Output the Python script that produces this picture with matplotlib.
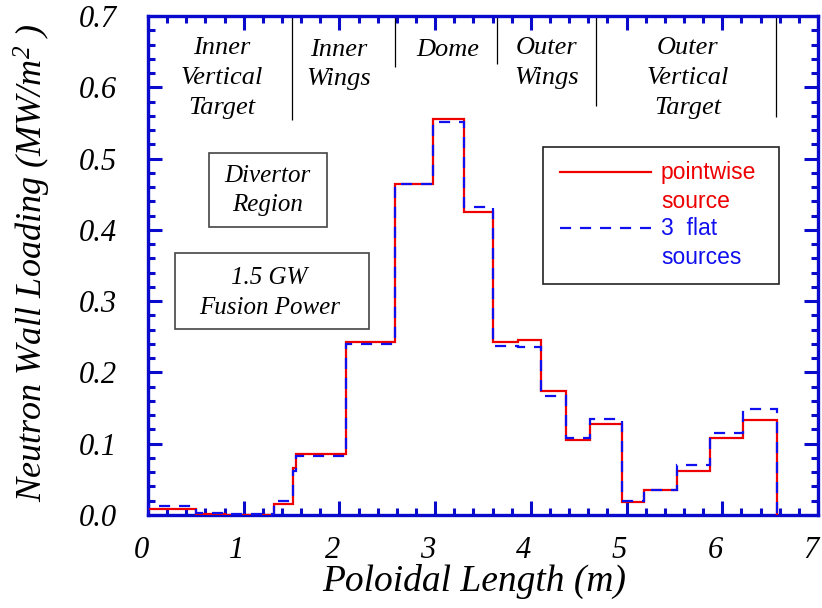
import matplotlib.pyplot as plt
from matplotlib.patches import Rectangle
from matplotlib.ticker import MultipleLocator, FormatStrFormatter
from matplotlib.transforms import ScaledTranslation

plt.rcParams['font.family'] = 'Liberation Serif'
plt.rcParams['font.style'] = 'italic'
plt.rcParams['mathtext.fontset'] = 'custom'
plt.rcParams['mathtext.rm'] = 'Liberation Serif'
plt.rcParams['mathtext.it'] = 'Liberation Serif:italic'

# poloidal bin edges (m) and wall loading per bin (MW/m2)
edges = [0.0, 0.5, 0.8, 1.32, 1.51, 1.55, 2.07, 2.58, 2.98, 3.30, 3.60,
         3.87, 4.11, 4.37, 4.62, 4.95, 5.18, 5.53, 5.87, 6.22, 6.57]
pointwise = [0.008, 0.002, 0.0005, 0.0155, 0.066, 0.0855, 0.243, 0.464,
             0.556, 0.4255, 0.243, 0.2455, 0.1745, 0.105, 0.1275, 0.018,
             0.035, 0.062, 0.108, 0.1335]
flat3 = [0.0125, 0.003, 0.001, 0.020, 0.062, 0.083, 0.2395, 0.464,
         0.552, 0.4325, 0.2375, 0.236, 0.167, 0.1085, 0.134, 0.019,
         0.035, 0.070, 0.1155, 0.148]

# divertor region boundaries and labels
region_x = [1.50, 2.583, 3.647, 4.68, 6.556]
region_ymin = [0.554, 0.629, 0.633, 0.574, 0.559]
region_names = ["Inner\nVertical\nTarget", "Inner\nWings", "Dome",
                "Outer\nWings", "Outer\nVertical\nTarget"]
region_lx = [0.77, 1.99, 3.13, 4.165, 5.64]
region_ly = [0.613, 0.632, 0.652, 0.634, 0.613]

axblue = '#0a0acc'

fig = plt.figure(figsize=(8.22, 6.08), dpi=100)
ax = fig.add_axes([148 / 822, 93 / 608, 670 / 822, 499 / 608])

ax.stairs(pointwise, edges, baseline=0, color='#ee0000', lw=1.6, zorder=3)
ax.stairs(flat3, edges, baseline=0, color='#1010ee', lw=1.6,
          linestyle=(0, (5, 4)), zorder=4)

ax.vlines(region_x, region_ymin, 0.7, color='black', lw=0.9)
for name, lx, ly in zip(region_names, region_lx, region_ly):
    ax.text(lx, ly, name, ha='center', va='center', fontsize=19,
            linespacing=1.45)

# annotation boxes
ax.add_patch(Rectangle((0.642, 0.4036), 1.224, 0.1044, fill=False,
                       ec='#444444', lw=1.2))
ax.text(1.25, 0.455, "Divertor\nRegion", ha='center', va='center',
        fontsize=18, linespacing=1.45)
ax.add_patch(Rectangle((0.277, 0.2605), 2.034, 0.107, fill=False,
                       ec='#444444', lw=1.2))
ax.text(1.27, 0.311, "1.5 GW\nFusion Power", ha='center', va='center',
        fontsize=18, linespacing=1.45)

# legend drawn by hand in a box
ax.add_patch(Rectangle((4.132, 0.3236), 2.461, 0.1922, fill=False,
                       ec='#222222', lw=1.2, zorder=5))
ax.plot([4.30, 5.25], [0.4815, 0.4815], color='#ee0000', lw=1.6)
ax.plot([4.30, 5.25], [0.4022, 0.4022], color='#1010ee', lw=1.6,
        linestyle=(0, (5, 4)))
ax.text(5.36, 0.46, "pointwise\nsource", color='#ee0000', fontsize=16.5,
        family='Liberation Sans', style='normal', va='center',
        linespacing=1.3)
ax.text(5.36, 0.3815, "3  flat\nsources", color='#1010ee', fontsize=16.5,
        family='Liberation Sans', style='normal', va='center',
        linespacing=1.3)

ax.set_xlim(0, 7)
ax.set_ylim(0, 0.7)
ax.xaxis.set_major_locator(MultipleLocator(1))
ax.xaxis.set_minor_locator(MultipleLocator(0.2))
ax.yaxis.set_major_locator(MultipleLocator(0.1))
ax.yaxis.set_minor_locator(MultipleLocator(0.02))
ax.yaxis.set_major_formatter(FormatStrFormatter('%.1f'))

ax.tick_params(which='both', direction='in', top=True, right=True,
               color=axblue, width=2.2)
ax.tick_params(which='major', length=10, labelsize=22)
ax.tick_params(which='minor', length=5)
ax.tick_params(axis='x', which='major', pad=15)
ax.tick_params(axis='y', which='major', pad=22)
for s in ax.spines.values():
    s.set_color(axblue)
    s.set_linewidth(2.4)

# x tick labels sit a little left of their ticks
shift = ScaledTranslation(-7 / 100, 0, fig.dpi_scale_trans)
for lab in ax.get_xticklabels():
    lab.set_transform(lab.get_transform() + shift)

ax.set_xlabel("Poloidal Length (m)", fontsize=27)
ax.xaxis.set_label_coords(0.487, -0.098)
ax.set_ylabel(r"Neutron Wall Loading (MW/m$^{2}$ )", fontsize=26)
ax.yaxis.set_label_coords(-0.142, 0.505)

fig.savefig('out.png', dpi=100)
